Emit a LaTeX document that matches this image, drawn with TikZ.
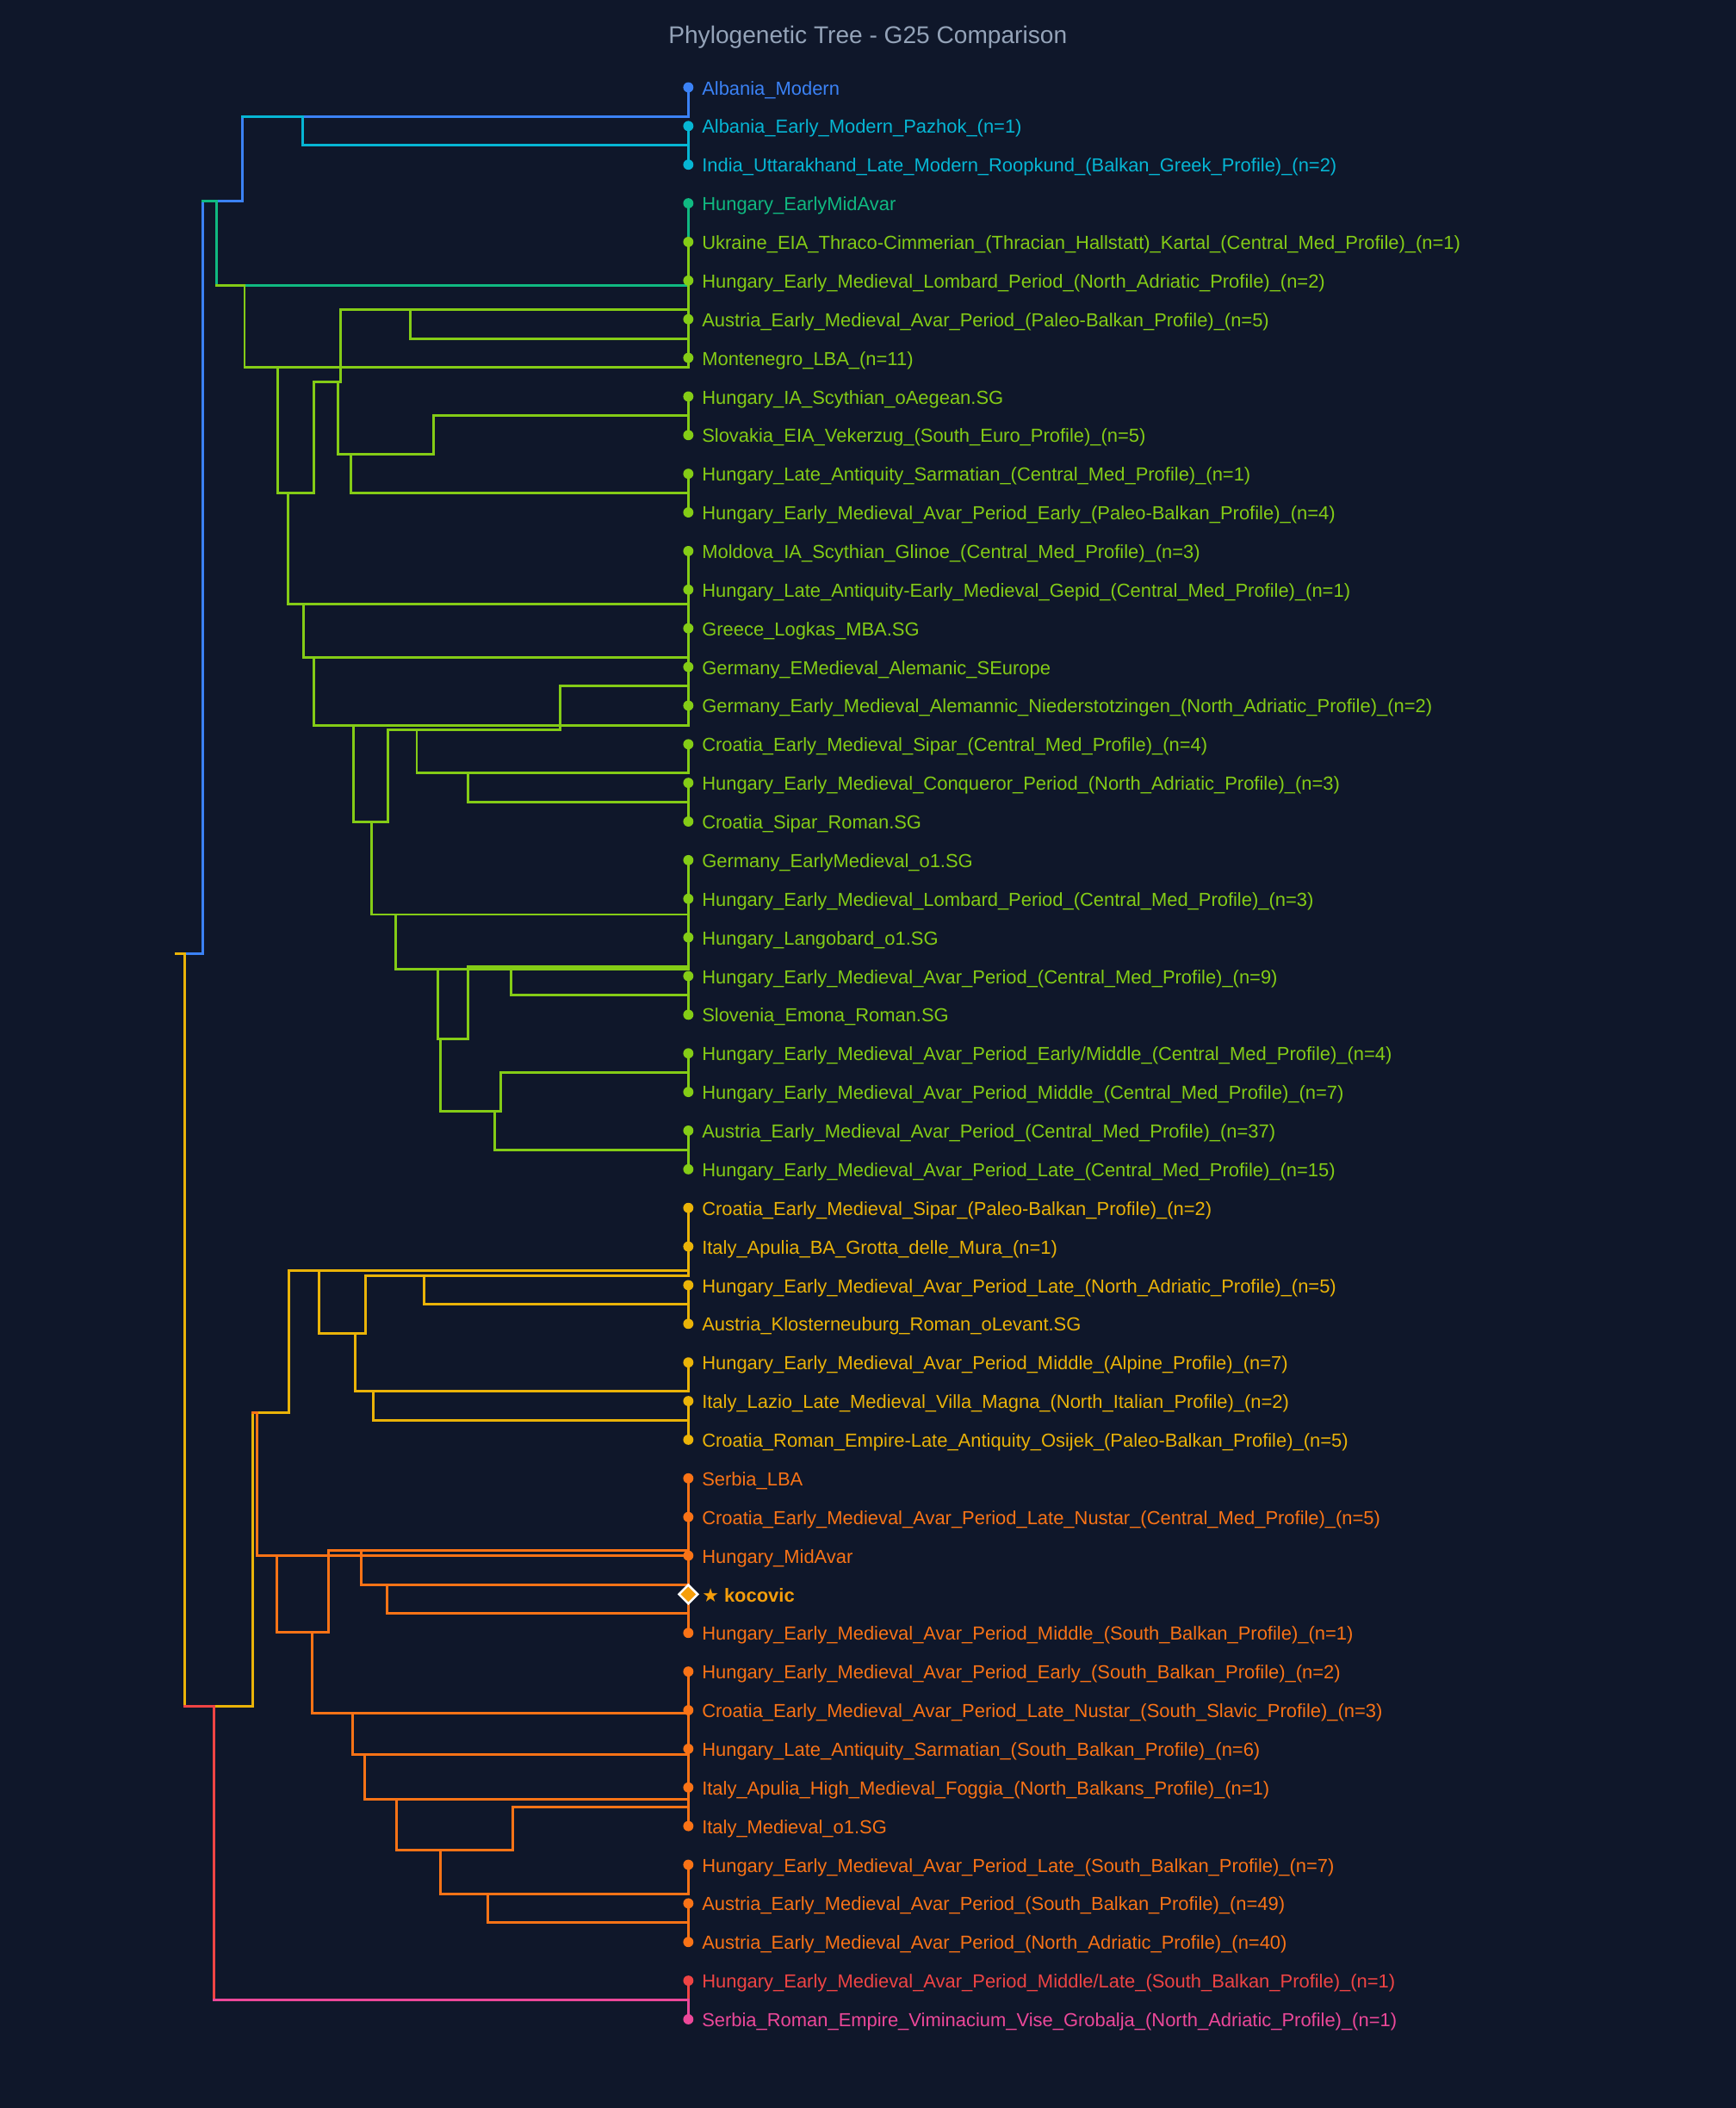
\documentclass[tikz,border=0pt]{standalone}
\usepackage{fontspec}
\setmainfont{Liberation Sans}
\newfontfamily\starfont{DejaVu Sans}
\usetikzlibrary{calc,positioning,shapes.geometric}

\definecolor{bgnavy}{HTML}{0F172A}
\definecolor{titlegray}{HTML}{94A3B8}
\definecolor{cblue}{HTML}{3B82F6}
\definecolor{ccyan}{HTML}{06B6D4}
\definecolor{cteal}{HTML}{10B981}
\definecolor{clime}{HTML}{84CC16}
\definecolor{cyellow}{HTML}{EAB308}
\definecolor{corange}{HTML}{F97316}
\definecolor{cred}{HTML}{EF4444}
\definecolor{cpink}{HTML}{EC4899}
\definecolor{camber}{HTML}{F59E0B}

\tikzset{
  branch/.style={line width=1.9pt,line cap=rect},
  leaflabel/.style={anchor=base west,inner sep=0pt,font=\fontsize{14.05}{16}\selectfont},
}

\begin{document}
\begin{tikzpicture}[x=1pt,y=-1pt]
\fill[bgnavy] (0,0) rectangle (1291,1568);
\useasboundingbox (0,0) rectangle (1291,1568);

\node[text=titlegray,font=\fontsize{18}{21}\selectfont] (title) at (645.5,28) {Phylogenetic Tree - G25 Comparison};

% leaves
\foreach \i in {1,...,51}
  \coordinate (L\i) at (512,{65+28.74*(\i-1)});

% merge points (x = distance, y = mean of the two children)
\coordinate (n23) at (225.1,108.11);
\coordinate (nA) at (180.1,86.56);
\coordinate (nF) at (305.1,251.81);
\coordinate (nG) at (253.3,230.26);
\coordinate (nJ) at (322.3,309.29);
\coordinate (nK) at (261.1,366.77);
\coordinate (nI) at (251.2,338.03);
\coordinate (nH) at (233.7,284.15);
\coordinate (nU) at (416.4,510.47);
\coordinate (nW) at (348.4,596.69);
\coordinate (nV) at (310.0,575.14);
\coordinate (nS) at (288.6,542.80);
\coordinate (nAB) at (380.1,740.39);
\coordinate (nZ) at (348.4,718.84);
\coordinate (nAC) at (372.2,797.87);
\coordinate (nAD) at (367.8,855.35);
\coordinate (nAA) at (327.5,826.61);
\coordinate (nY) at (325.7,772.73);
\coordinate (nX) at (294.3,720.63);
\coordinate (nT) at (276.6,680.22);
\coordinate (nR) at (263.0,611.51);
\coordinate (nQ) at (233.7,539.44);
\coordinate (nP) at (225.6,489.03);
\coordinate (nN) at (214.1,449.45);
\coordinate (nM) at (206.8,366.80);
\coordinate (nC) at (181.9,273.38);
\coordinate (nB) at (161.0,212.30);
\coordinate (nR1) at (150.6,149.43);
\coordinate (nYF) at (315.5,970.31);
\coordinate (nYD) at (272.1,948.76);
\coordinate (nYG) at (277.9,1056.53);
\coordinate (nYE) at (264.3,1034.98);
\coordinate (nYC) at (237.6,991.87);
\coordinate (nYB) at (215.1,945.17);
\coordinate (nOF) at (287.8,1200.23);
\coordinate (nOE) at (269.0,1178.68);
\coordinate (nOC) at (244.4,1153.53);
\coordinate (nOL) at (363.1,1430.15);
\coordinate (nOK) at (327.5,1408.60);
\coordinate (nOJ) at (381.4,1343.93);
\coordinate (nOI) at (295.1,1376.27);
\coordinate (nOH) at (271.4,1338.55);
\coordinate (nOG) at (262.4,1305.32);
\coordinate (nOD) at (231.9,1274.33);
\coordinate (nOB) at (206.0,1213.93);
\coordinate (nOA) at (191.1,1156.79);
\coordinate (nYA) at (188.0,1050.98);
\coordinate (nRA) at (159.2,1487.63);
\coordinate (nR2) at (137.5,1269.31);
\coordinate (root) at (131.0,709.37);

% branches, child |- parent
\foreach \a/\b in {L1/nA,nA/nR1,nR1/root}
  \draw[branch,cblue] (\a) |- (\b);
\foreach \a/\b in {L2/n23,L3/n23,n23/nA}
  \draw[branch,ccyan] (\a) |- (\b);
\foreach \a/\b in {L4/nB,nB/nR1}
  \draw[branch,cteal] (\a) |- (\b);
\foreach \a/\b in {L5/nC,nM/nC,nH/nM,nN/nM,nG/nH,nI/nH,L6/nG,nF/nG,L7/nF,L8/nF,
    nJ/nI,nK/nI,L9/nJ,L10/nJ,L11/nK,L12/nK,L13/nN,nP/nN,L14/nP,nQ/nP,L15/nQ,nR/nQ,
    nS/nR,nT/nR,nU/nS,nV/nS,L16/nU,L17/nU,L18/nV,nW/nV,L19/nW,L20/nW,L21/nT,nX/nT,
    L22/nX,nY/nX,nZ/nY,nAA/nY,L23/nZ,nAB/nZ,L24/nAB,L25/nAB,nAC/nAA,nAD/nAA,
    L26/nAC,L27/nAC,L28/nAD,L29/nAD,nC/nB}
  \draw[branch,clime] (\a) |- (\b);
\foreach \a/\b in {L30/nYB,nYC/nYB,nYD/nYC,nYE/nYC,L31/nYD,nYF/nYD,L32/nYF,L33/nYF,
    L34/nYE,nYG/nYE,L35/nYG,L36/nYG,nYB/nYA,nYA/nR2,nR2/root}
  \draw[branch,cyellow] (\a) |- (\b);
\foreach \a/\b in {L37/nOA,nOB/nOA,nOC/nOB,nOD/nOB,L38/nOC,nOE/nOC,L39/nOE,nOF/nOE,
    L40/nOF,L41/nOF,L42/nOD,nOG/nOD,L43/nOG,nOH/nOG,L44/nOH,nOI/nOH,nOJ/nOI,nOK/nOI,
    L45/nOJ,L46/nOJ,L47/nOK,nOL/nOK,L48/nOL,L49/nOL,nOA/nYA}
  \draw[branch,corange] (\a) |- (\b);
\foreach \a/\b in {L50/nRA,nRA/nR2}
  \draw[branch,cred] (\a) |- (\b);
\draw[branch,cpink] (L51) |- (nRA);

% leaf markers and names
\foreach \i/\c/\t in {
  1/cblue/Albania\_Modern,
  2/ccyan/Albania\_Early\_Modern\_Pazhok\_(n=1),
  3/ccyan/India\_Uttarakhand\_Late\_Modern\_Roopkund\_(Balkan\_Greek\_Profile)\_(n=2),
  4/cteal/Hungary\_EarlyMidAvar,
  5/clime/Ukraine\_EIA\_Thraco-Cimmerian\_(Thracian\_Hallstatt)\_Kartal\_(Central\_Med\_Profile)\_(n=1),
  6/clime/Hungary\_Early\_Medieval\_Lombard\_Period\_(North\_Adriatic\_Profile)\_(n=2),
  7/clime/Austria\_Early\_Medieval\_Avar\_Period\_(Paleo-Balkan\_Profile)\_(n=5),
  8/clime/Montenegro\_LBA\_(n=11),
  9/clime/Hungary\_IA\_Scythian\_oAegean.SG,
  10/clime/Slovakia\_EIA\_Vekerzug\_(South\_Euro\_Profile)\_(n=5),
  11/clime/Hungary\_Late\_Antiquity\_Sarmatian\_(Central\_Med\_Profile)\_(n=1),
  12/clime/Hungary\_Early\_Medieval\_Avar\_Period\_Early\_(Paleo-Balkan\_Profile)\_(n=4),
  13/clime/Moldova\_IA\_Scythian\_Glinoe\_(Central\_Med\_Profile)\_(n=3),
  14/clime/Hungary\_Late\_Antiquity-Early\_Medieval\_Gepid\_(Central\_Med\_Profile)\_(n=1),
  15/clime/Greece\_Logkas\_MBA.SG,
  16/clime/Germany\_EMedieval\_Alemanic\_SEurope,
  17/clime/Germany\_Early\_Medieval\_Alemannic\_Niederstotzingen\_(North\_Adriatic\_Profile)\_(n=2),
  18/clime/Croatia\_Early\_Medieval\_Sipar\_(Central\_Med\_Profile)\_(n=4),
  19/clime/Hungary\_Early\_Medieval\_Conqueror\_Period\_(North\_Adriatic\_Profile)\_(n=3),
  20/clime/Croatia\_Sipar\_Roman.SG,
  21/clime/Germany\_EarlyMedieval\_o1.SG,
  22/clime/Hungary\_Early\_Medieval\_Lombard\_Period\_(Central\_Med\_Profile)\_(n=3),
  23/clime/Hungary\_Langobard\_o1.SG,
  24/clime/Hungary\_Early\_Medieval\_Avar\_Period\_(Central\_Med\_Profile)\_(n=9),
  25/clime/Slovenia\_Emona\_Roman.SG,
  26/clime/{Hungary\_Early\_Medieval\_Avar\_Period\_Early/Middle\_(Central\_Med\_Profile)\_(n=4)},
  27/clime/Hungary\_Early\_Medieval\_Avar\_Period\_Middle\_(Central\_Med\_Profile)\_(n=7),
  28/clime/Austria\_Early\_Medieval\_Avar\_Period\_(Central\_Med\_Profile)\_(n=37),
  29/clime/Hungary\_Early\_Medieval\_Avar\_Period\_Late\_(Central\_Med\_Profile)\_(n=15),
  30/cyellow/Croatia\_Early\_Medieval\_Sipar\_(Paleo-Balkan\_Profile)\_(n=2),
  31/cyellow/Italy\_Apulia\_BA\_Grotta\_delle\_Mura\_(n=1),
  32/cyellow/Hungary\_Early\_Medieval\_Avar\_Period\_Late\_(North\_Adriatic\_Profile)\_(n=5),
  33/cyellow/Austria\_Klosterneuburg\_Roman\_oLevant.SG,
  34/cyellow/Hungary\_Early\_Medieval\_Avar\_Period\_Middle\_(Alpine\_Profile)\_(n=7),
  35/cyellow/Italy\_Lazio\_Late\_Medieval\_Villa\_Magna\_(North\_Italian\_Profile)\_(n=2),
  36/cyellow/Croatia\_Roman\_Empire-Late\_Antiquity\_Osijek\_(Paleo-Balkan\_Profile)\_(n=5),
  37/corange/Serbia\_LBA,
  38/corange/Croatia\_Early\_Medieval\_Avar\_Period\_Late\_Nustar\_(Central\_Med\_Profile)\_(n=5),
  39/corange/Hungary\_MidAvar,
  41/corange/Hungary\_Early\_Medieval\_Avar\_Period\_Middle\_(South\_Balkan\_Profile)\_(n=1),
  42/corange/Hungary\_Early\_Medieval\_Avar\_Period\_Early\_(South\_Balkan\_Profile)\_(n=2),
  43/corange/Croatia\_Early\_Medieval\_Avar\_Period\_Late\_Nustar\_(South\_Slavic\_Profile)\_(n=3),
  44/corange/Hungary\_Late\_Antiquity\_Sarmatian\_(South\_Balkan\_Profile)\_(n=6),
  45/corange/Italy\_Apulia\_High\_Medieval\_Foggia\_(North\_Balkans\_Profile)\_(n=1),
  46/corange/Italy\_Medieval\_o1.SG,
  47/corange/Hungary\_Early\_Medieval\_Avar\_Period\_Late\_(South\_Balkan\_Profile)\_(n=7),
  48/corange/Austria\_Early\_Medieval\_Avar\_Period\_(South\_Balkan\_Profile)\_(n=49),
  49/corange/Austria\_Early\_Medieval\_Avar\_Period\_(North\_Adriatic\_Profile)\_(n=40),
  50/cred/{Hungary\_Early\_Medieval\_Avar\_Period\_Middle/Late\_(South\_Balkan\_Profile)\_(n=1)},
  51/cpink/Serbia\_Roman\_Empire\_Viminacium\_Vise\_Grobalja\_(North\_Adriatic\_Profile)\_(n=1)}{
  \fill[fill=\c] (L\i) circle (3.8);
  \node[leaflabel,text=\c] (t\i) at ([xshift=10pt,yshift=-5.5pt]L\i) {\t};
}

% the sample itself
\node[diamond,fill=camber,draw=white,line width=1.6pt,minimum size=14.5pt,inner sep=0pt] (kdot) at (L40) {};
\node[leaflabel,text=camber,font=\fontsize{14.05}{16}\selectfont\bfseries] (t40) at ([xshift=10pt,yshift=-5.5pt]L40) {{\starfont\mdseries ★} kocovic};
\end{tikzpicture}
\end{document}
